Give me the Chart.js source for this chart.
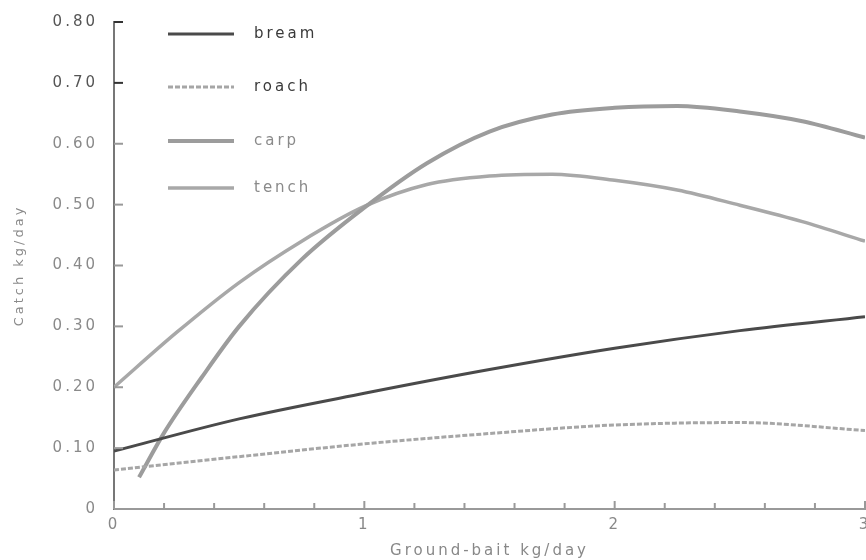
<!DOCTYPE html>
<html>
<head>
<meta charset="utf-8">
<style>
  html, body { margin: 0; padding: 0; background: #ffffff; }
  #wrap { width: 866px; height: 560px; position: relative; }
</style>
<script src="https://cdn.jsdelivr.net/npm/chart.js@4.4.1/dist/chart.umd.min.js"></script>
</head>
<body>
<div id="wrap"><canvas id="c" width="866" height="560"></canvas></div>
<script>
// ---- data ----
const seriesNames = ['bream', 'roach', 'carp', 'tench'];

const breamX = [0, 0.5, 1, 1.5, 2, 2.5, 3];
const breamY = [0.095, 0.148, 0.19, 0.229, 0.264, 0.293, 0.316];

const roachX = [0, 0.5, 1, 1.5, 2, 2.5, 3];
const roachY = [0.064, 0.086, 0.107, 0.124, 0.138, 0.142, 0.129];

const carpX = [0.1, 0.2, 0.35, 0.5, 0.75, 1, 1.25, 1.5, 1.75, 2, 2.25, 2.5, 2.75, 3];
const carpY = [0.052, 0.125, 0.216, 0.30, 0.41, 0.495, 0.568, 0.62, 0.648, 0.659, 0.662, 0.653, 0.637, 0.61];

const tenchX = [0, 0.25, 0.5, 0.75, 1, 1.25, 1.5, 1.75, 2, 2.25, 2.5, 2.75, 3];
const tenchY = [0.20, 0.29, 0.372, 0.44, 0.497, 0.533, 0.547, 0.55, 0.54, 0.524, 0.499, 0.472, 0.44];

const yTicks = [0, 0.10, 0.20, 0.30, 0.40, 0.50, 0.60, 0.70, 0.80];
const xLabels = ['0', '1', '2', '3'];
const xTitle = 'Ground-bait kg/day';
const yTitle = 'Catch kg/day';

// ---- helpers ----
function pts(xs, ys) { return xs.map((x, i) => ({ x: x, y: ys[i] })); }

const FONT = 'DejaVu Sans';

const spacingPlugin = {
  id: 'spacing',
  beforeUpdate(chart) { chart.ctx.letterSpacing = '3px'; },
  beforeDraw(chart) { chart.ctx.letterSpacing = '3px'; }
};

const inwardTicks = {
  id: 'inwardTicks',
  afterDatasetsDraw(chart) {
    const ctx = chart.ctx;
    const xs = chart.scales.x, ys = chart.scales.y;
    const a = chart.chartArea;
    ctx.save();
    ys.ticks.forEach((t, i) => {
      const py = ys.getPixelForValue(t.value);
      ctx.strokeStyle = i >= ys.ticks.length - 2 ? '#333' : '#999';
      ctx.lineWidth = 2;
      ctx.beginPath();
      ctx.moveTo(a.left, py);
      ctx.lineTo(a.left + 9, py);
      ctx.stroke();
    });
    xs.ticks.forEach(t => {
      const px = xs.getPixelForValue(t.value);
      const major = Math.abs(t.value - Math.round(t.value)) < 1e-6;
      ctx.strokeStyle = '#999';
      ctx.lineWidth = 2;
      ctx.beginPath();
      ctx.moveTo(px, a.bottom);
      ctx.lineTo(px, a.bottom - (major ? 8 : 6));
      ctx.stroke();
    });
    ctx.restore();
  }
};

const customLegend = {
  id: 'customLegend',
  afterDraw(chart) {
    const ctx = chart.ctx;
    const a = chart.chartArea;
    const rows = [34, 87, 141, 188];
    ctx.save();
    ctx.letterSpacing = '3px';
    chart.data.datasets.forEach((ds, i) => {
      const y = rows[i];
      ctx.strokeStyle = ds.borderColor;
      ctx.lineWidth = ds.borderWidth;
      ctx.setLineDash(ds.borderDash || []);
      ctx.beginPath();
      ctx.moveTo(a.left + 54, y);
      ctx.lineTo(a.left + 120, y);
      ctx.stroke();
      ctx.setLineDash([]);
      ctx.fillStyle = ds.legendTextColor;
      ctx.font = '15px "' + FONT + '"';
      ctx.textBaseline = 'middle';
      ctx.textAlign = 'left';
      ctx.fillText(ds.label, a.left + 140, y);
    });
    ctx.restore();
  }
};

const datasets = [
  { label: seriesNames[0], data: pts(breamX, breamY), borderColor: '#4a4a4a', borderWidth: 3, legendTextColor: '#3a3a3a' },
  { label: seriesNames[1], data: pts(roachX, roachY), borderColor: '#a6a6a6', borderWidth: 3, borderDash: [5, 2], legendTextColor: '#3a3a3a' },
  { label: seriesNames[2], data: pts(carpX, carpY), borderColor: '#9c9c9c', borderWidth: 4, legendTextColor: '#8a8a8a' },
  { label: seriesNames[3], data: pts(tenchX, tenchY), borderColor: '#a8a8a8', borderWidth: 3.5, legendTextColor: '#8a8a8a' }
].map(d => Object.assign(d, {
  pointRadius: 0, fill: false, cubicInterpolationMode: 'monotone', tension: 0.4
}));

new Chart(document.getElementById('c'), {
  type: 'line',
  data: { datasets: datasets },
  plugins: [spacingPlugin, inwardTicks, customLegend],
  options: {
    responsive: false,
    animation: false,
    devicePixelRatio: 1,
    layout: { padding: { top: 22, right: 1, left: 0, bottom: 0 } },
    plugins: { legend: { display: false }, tooltip: { enabled: false } },
    scales: {
      x: {
        type: 'linear', min: 0, max: 3,
        afterFit(s) { s.height = 51; s.paddingLeft = 0; s.paddingRight = 0; },
        grid: { display: false, drawTicks: false },
        border: { display: true, color: '#999', width: 2 },
        ticks: {
          stepSize: 0.2, autoSkip: false, maxRotation: 0, padding: 7,
          color: '#888', font: { family: FONT, size: 15 },
          callback(v) {
            const r = Math.round(v);
            return Math.abs(v - r) < 1e-6 ? xLabels[r] : '';
          }
        },
        title: { display: true, text: xTitle, color: '#888', font: { family: FONT, size: 15 }, padding: { top: 2, bottom: 0 } }
      },
      y: {
        type: 'linear', min: 0, max: 0.8,
        afterFit(s) { s.width = 114; s.paddingTop = 0; s.paddingBottom = 0; },
        afterBuildTicks(s) { s.ticks = yTicks.map(v => ({ value: v })); },
        grid: { display: false, drawTicks: false },
        border: { display: true, color: '#777', width: 2 },
        ticks: {
          padding: 16,
          color(ctx) { return ctx.tick && ctx.tick.value >= 0.7 ? '#555' : '#8a8a8a'; },
          font: { family: FONT, size: 15 },
          callback(v) { return v === 0 ? '0' : v.toFixed(2); }
        },
        title: { display: true, text: yTitle, color: '#8a8a8a', font: { family: FONT, size: 13 }, padding: { top: 12, bottom: 0 } }
      }
    }
  }
});
</script>
</body>
</html>
